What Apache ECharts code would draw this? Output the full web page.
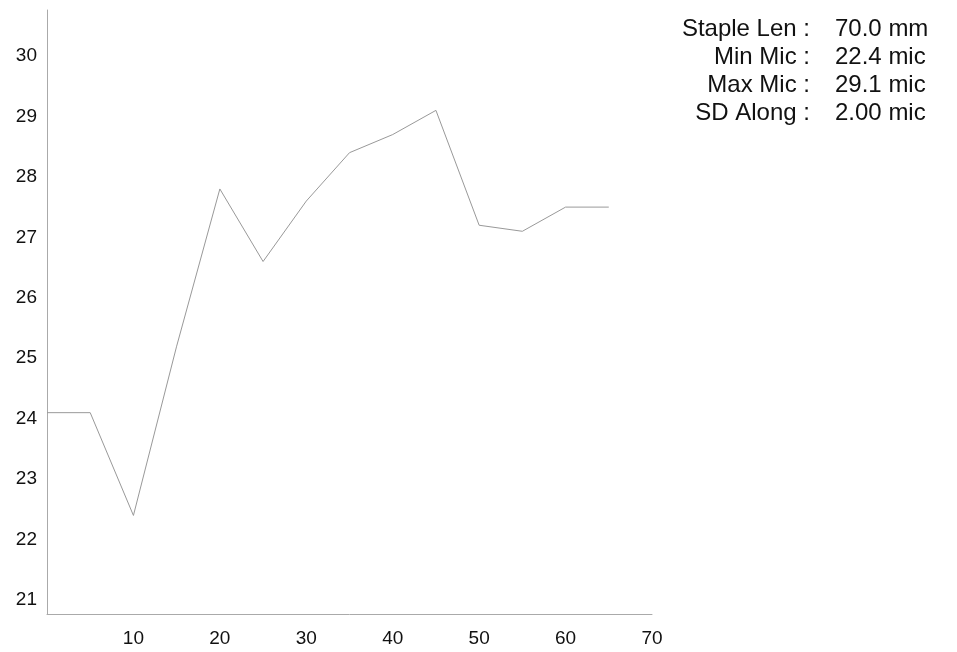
<!DOCTYPE html>
<html>
<head>
<meta charset="utf-8">
<script src="https://cdn.jsdelivr.net/npm/echarts@6/dist/echarts.min.js"></script>
<style>html,body{margin:0;padding:0;background:#fff;}#c{width:957px;height:652px;}</style>
</head>
<body>
<div id="c"></div>
<script>
const positions = [0, 5, 10, 15, 20, 25, 30, 35, 40, 45, 50, 55, 60, 65];
const micValues = [24.1, 24.1, 22.4, 25.2, 27.8, 26.6, 27.6, 28.4, 28.7, 29.1, 27.2, 27.1, 27.5, 27.5];
const xTickLabels = [10, 20, 30, 40, 50, 60, 70];
const yTickLabels = [21, 22, 23, 24, 25, 26, 27, 28, 29, 30];
const statNames = ["Staple Len :", "Min Mic :", "Max Mic :", "SD Along :"];
const statValues = ["70.0 mm", "22.4 mic", "29.1 mic", "2.00 mic"];

const chart = echarts.init(document.getElementById('c'), null, {renderer: 'canvas'});
const font = 'Liberation Sans, Arial, sans-serif';
const graphics = [];
statNames.forEach((n, i) => {
  graphics.push({type: 'text', x: 810, y: 17 + i * 28,
    style: {text: n, fill: '#111', font: '24px ' + font, align: 'right', verticalAlign: 'top'}});
  graphics.push({type: 'text', x: 835, y: 17 + i * 28,
    style: {text: statValues[i], fill: '#111', font: '24px ' + font, align: 'left', verticalAlign: 'top'}});
});
chart.setOption({
  animation: false,
  backgroundColor: '#fff',
  grid: {left: 47, right: 305, top: 10, bottom: 38},
  xAxis: {
    type: 'value', min: 0, max: 70,
    axisLine: {show: true, lineStyle: {color: '#aaa', width: 1}},
    axisTick: {show: false},
    splitLine: {show: false},
    axisLabel: {customValues: xTickLabels, color: '#111', fontSize: 19, fontFamily: font, margin: 15}
  },
  yAxis: {
    type: 'value', min: 20.77, max: 30.76,
    axisLine: {show: true, lineStyle: {color: '#aaa', width: 1}},
    axisTick: {show: false},
    splitLine: {show: false},
    axisLabel: {customValues: yTickLabels, color: '#111', fontSize: 19, fontFamily: font, margin: 10}
  },
  series: [{
    type: 'line',
    data: positions.map((p, i) => [p, micValues[i]]),
    showSymbol: false,
    lineStyle: {color: '#999', width: 1},
    silent: true
  }],
  graphic: graphics
});
</script>
</body>
</html>
